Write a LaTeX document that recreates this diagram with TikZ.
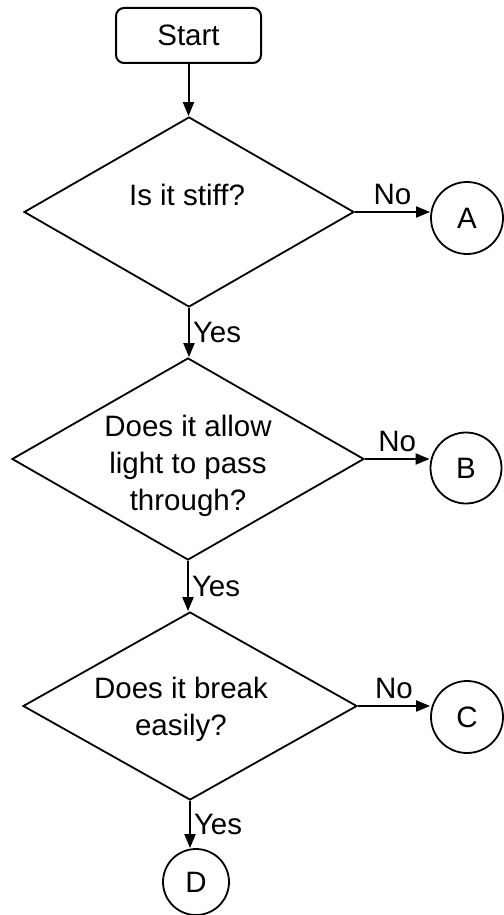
\documentclass[tikz,border=0pt]{standalone}
\usepackage{fontspec}
\setmainfont{Liberation Sans}
\usetikzlibrary{shapes.geometric,arrows.meta}
\begin{document}
\begin{tikzpicture}[x=1pt,y=-1pt,
  every node/.style={font=\fontsize{29.5}{37}\selectfont},
  startbox/.style={draw,line width=2pt,rounded corners=8pt,minimum width=145pt,minimum height=55pt,inner sep=0pt},
  dia/.style={draw,diamond,line width=1.8pt,inner sep=0pt},
  conn/.style={draw,circle,line width=1.8pt,inner sep=0pt},
  qtext/.style={align=center,inner sep=0pt},
  flow/.style={line width=2pt,-{Triangle[length=14pt,width=11pt]}},
  lab/.style={inner sep=3pt},
  nolab/.style={inner sep=0pt,above=6pt}]
\useasboundingbox (0,0) rectangle (503,915);
\node[startbox] (start) at (188.5,35.5) {Start};
\node[dia,minimum width=330pt,minimum height=190pt] (d1) at (189,212) {};
\node[qtext] (t1) at (187,195) {Is it stiff?};
\node[dia,minimum width=352pt,minimum height=202pt] (d2) at (188,459) {};
\node[qtext] (t2) at (188,466) {Does it allow\\light to pass\\through?};
\node[dia,minimum width=334pt,minimum height=188pt] (d3) at (190,706) {};
\node[qtext] (t3) at (181,709) {Does it break\\easily?};
\node[conn,minimum size=72pt] (A) at (467,218) {A};
\node[conn,minimum size=71pt] (B) at (466,468) {B};
\node[conn,minimum size=72pt] (C) at (467,717) {C};
\node[conn,minimum size=66pt] (D) at (196,882) {D};
\draw[flow] (start.south) -- (start.south |- d1.north);
\draw[flow] (d1.east) -- node[nolab] {No} (d1.east -| A.west);
\draw[flow] (d1.south) -- node[lab,right] {Yes} (d1.south |- d2.north);
\draw[flow] (d2.east) -- node[nolab] {No} (d2.east -| B.west);
\draw[flow] (d2.south) -- node[lab,right] {Yes} (d2.south |- d3.north);
\draw[flow] (d3.east) -- node[nolab] {No} (d3.east -| C.west);
\draw[flow] (d3.south) -- node[lab,right] {Yes} (d3.south |- D.north);
\end{tikzpicture}
\end{document}
